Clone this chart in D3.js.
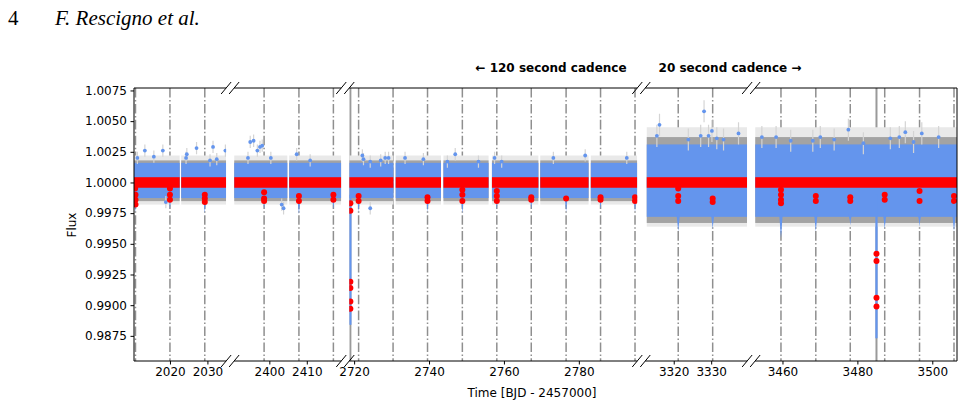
<!DOCTYPE html>
<html>
<head>
<meta charset="UTF-8">
<script src="https://d3js.org/d3.v7.min.js"></script>
<style>
  body { margin: 0; background: #fff; }
  svg text { font-family: "DejaVu Sans", sans-serif; }
</style>
</head>
<body>
<div id="chart"></div>
<script>
// x-limits of the five broken-axis panels (BJD - 2457000)
const panels = [[2010.4, 2035.0], [2390.6, 2419.2], [2718.7, 2795.6], [3312.4, 3339.6], [3452.7, 3506.6]];
const xTicks = [[2020, 2030], [2400, 2410], [2720, 2740, 2760, 2780], [3320, 3330], [3460, 3480, 3500]];
const yTicks = [0.9875, 0.9900, 0.9925, 0.9950, 0.9975, 1.0000, 1.0025, 1.0050, 1.0075];

// stretches of continuous data
const chunks120 = [[2010.4, 2022.6], [2023.0, 2035.0], [2390.6, 2404.8], [2405.3, 2419.2],
  [2718.7, 2730.5], [2731.1, 2743.2], [2743.85, 2755.9], [2756.8, 2769.2], [2769.7, 2782.6], [2783.2, 2795.6]];
const chunks20 = [[3312.8, 3339.6], [3452.7, 3506.6]];

// spread of the flux about 1 (above, below): points, dense error bars, faint error bars
const spread120 = { blue: [0.0016, 0.00127], dark: [0.0018, 0.00152], light: [0.0022, 0.0018] };
const spread20 = { blue: [0.0031, 0.0028], dark: [0.0037, 0.0033], light: [0.0045, 0.0036] };
const binSpread = 0.00043;

// planet transits (dash-dot) and their lowest unbinned flux
const transitTimes = [2010.8, 2020.0, 2029.3, 2398.6, 2407.9, 2417.1, 2721.2, 2730.4, 2739.6, 2748.9,
  2758.1, 2767.3, 2776.6, 2785.8, 2795.0, 3321.2, 3330.4, 3459.6, 3468.9, 3478.1, 3487.3, 3496.6, 3505.8];
const transitMin = [0.9976, 0.9978, 0.9975, 0.9978, 0.9974, 0.9978, 0.9976, null, 0.9976, 0.9975,
  0.9978, 0.9978, 0.9976, 0.9978, 0.9976, 0.9960, 0.9962, 0.9955, 0.9960, 0.9965, 0.9962, 0.9964, 0.9960];
// single deep transits (solid)
const singleTimes = [2719.0, 3485.1];
const singleMin = [0.9884, 0.9873];

// binned points inside transits
const binnedDips = [
  [2010.7, 0.9995], [2010.8, 0.9990], [2010.8, 0.9986], [2010.8, 0.9982],
  [2020.0, 0.9995], [2020.0, 0.9990], [2020.0, 0.9986],
  [2029.3, 0.9990], [2029.3, 0.9987], [2029.3, 0.9984],
  [2398.6, 0.9992], [2398.6, 0.9987], [2398.6, 0.9985],
  [2407.9, 0.9989], [2407.9, 0.9985], [2417.1, 0.9990], [2417.1, 0.9986],
  [2719.0, 0.9983], [2719.0, 0.9977], [2719.0, 0.9919], [2719.0, 0.9914], [2719.0, 0.9903], [2719.0, 0.9897],
  [2721.2, 0.9989], [2721.2, 0.9985], [2739.6, 0.9988], [2739.6, 0.9985],
  [2748.9, 0.9994], [2748.9, 0.9990], [2748.9, 0.9985],
  [2758.1, 0.9993], [2758.1, 0.9989], [2758.1, 0.9985],
  [2767.3, 0.9988], [2767.3, 0.9986], [2776.6, 0.9987],
  [2785.8, 0.9988], [2785.8, 0.9986], [2795.0, 0.9988], [2795.0, 0.9985],
  [3321.2, 0.9995], [3321.2, 0.9989], [3321.2, 0.9985], [3330.4, 0.9987], [3330.4, 0.9984],
  [3459.6, 0.9994], [3459.6, 0.9990], [3459.6, 0.9986], [3459.6, 0.9983],
  [3468.9, 0.9989], [3468.9, 0.9985], [3478.1, 0.9988], [3478.1, 0.9985],
  [3485.1, 0.9942], [3485.1, 0.9936], [3485.1, 0.9906], [3485.1, 0.9899],
  [3487.3, 0.9990], [3487.3, 0.9986], [3496.6, 0.9993], [3496.6, 0.9985],
  [3505.8, 0.9989], [3505.8, 0.9985]
];

// stray unbinned points outside the main band
const outliers120 = [
  [2011.3, 1.0020], [2013.3, 1.0026], [2015.7, 1.0021], [2018.1, 1.0026], [2018.9, 0.9984],
  [2024.3, 1.0020], [2024.5, 1.0023], [2027.1, 1.0028], [2030.7, 1.0018], [2031.5, 1.0029],
  [2032.5, 1.0019], [2034.8, 1.0026],
  [2394.3, 1.0020], [2394.9, 1.0033], [2395.8, 1.0034], [2396.8, 1.0026], [2397.5, 1.0029],
  [2398.1, 1.0030], [2400.4, 1.0020], [2403.3, 0.9982], [2403.8, 0.9979], [2407.3, 1.0023], [2410.9, 1.0018],
  [2722.2, 1.0022], [2722.5, 1.0019], [2724.3, 1.0017], [2724.3, 0.9979], [2727.1, 1.0018],
  [2728.3, 1.0020], [2729.2, 1.0020], [2733.6, 1.0020], [2738.5, 1.0019], [2744.9, 1.0017],
  [2747.0, 1.0023], [2753.2, 1.0017], [2757.5, 1.0020], [2759.4, 1.0017], [2773.2, 1.0020],
  [2781.7, 1.0022], [2792.8, 1.0020]
];
const outliers20 = [
  [3315.5, 1.0038], [3316.2, 1.0047], [3323.9, 1.0035], [3327.2, 1.0038], [3328.1, 1.0058],
  [3329.3, 1.0038], [3330.2, 1.0042], [3331.5, 1.0036], [3333.3, 1.0035], [3337.3, 1.0040],
  [3454.5, 1.0037], [3458.3, 1.0037], [3462.2, 1.0034], [3468.1, 1.0034], [3470.1, 1.0037],
  [3473.8, 1.0035], [3477.6, 1.0043], [3481.6, 1.0032], [3488.8, 1.0036], [3491.2, 1.0037],
  [3492.8, 1.0041], [3495.0, 1.0033], [3497.2, 1.0040], [3501.7, 1.0037]
];

const W = 964, H = 413;
const axLeft = 134, axRight = 957, gap = 8, axTop = 88, axBottom = 361;
const blue = "#6495ed", red = "#ff0000";

const svg = d3.select("#chart").append("svg").attr("width", W).attr("height", H);

// header line of the paper
svg.append("text").attr("x", 8).attr("y", 25)
  .style("font-family", "'Liberation Serif', serif").style("font-size", "21px").text("4");
svg.append("text").attr("x", 55).attr("y", 25)
  .style("font-family", "'Liberation Serif', serif").style("font-size", "21px").style("font-style", "italic")
  .text("F. Rescigno et al.");

const y = d3.scaleLinear().domain([0.98545, 1.0077]).range([axBottom, axTop]);

// panel widths proportional to their time span
const spans = panels.map(p => p[1] - p[0]);
const pxPerDay = (axRight - axLeft - gap * (panels.length - 1)) / d3.sum(spans);
let cursor = axLeft;
const xs = panels.map((p, i) => {
  const sc = d3.scaleLinear().domain(p).range([cursor, cursor + spans[i] * pxPerDay]);
  cursor += spans[i] * pxPerDay + gap;
  return sc;
});

const defs = svg.append("defs");

xs.forEach((x, i) => {
  const [x0, x1] = x.range();
  defs.append("clipPath").attr("id", "clip" + i)
    .append("rect").attr("x", x0).attr("y", axTop).attr("width", x1 - x0).attr("height", axBottom - axTop);
  const g = svg.append("g").attr("clip-path", `url(#clip${i})`);
  const inPanel = t => t >= panels[i][0] - 1 && t <= panels[i][1] + 1;

  // transit markers
  g.selectAll(".tr").data(transitTimes.filter(inPanel)).join("line")
    .attr("x1", d => x(d)).attr("x2", d => x(d)).attr("y1", axTop).attr("y2", axBottom)
    .attr("stroke", "#8f8f8f").attr("stroke-width", 1.5).attr("stroke-dasharray", "9.6,2.4,1.5,2.4");
  g.selectAll(".st").data(singleTimes.filter(inPanel)).join("line")
    .attr("x1", d => x(d)).attr("x2", d => x(d)).attr("y1", axTop).attr("y2", axBottom)
    .attr("stroke", "#9a9a9a").attr("stroke-width", 2);

  const is20 = i >= 3;
  const sp = is20 ? spread20 : spread120;
  const cs = (is20 ? chunks20 : chunks120).filter(c => c[1] > panels[i][0] && c[0] < panels[i][1]);
  [["light", "#e9e9e9"], ["dark", "#a3a3a3"], ["blue", blue]].forEach(([k, col]) => {
    g.selectAll(null).data(cs).join("rect")
      .attr("x", d => x(d[0])).attr("width", d => x(d[1]) - x(d[0]))
      .attr("y", y(1 + sp[k][0])).attr("height", y(1 - sp[k][1]) - y(1 + sp[k][0]))
      .attr("fill", col);
  });

  // unbinned points dropping in transit
  const dips = transitTimes.map((t, k) => [t, transitMin[k]]).filter(d => d[1] !== null && inPanel(d[0]));
  const base = 1 - sp.blue[1] + 0.0002;
  g.selectAll(null).data(dips).join("path")
    .attr("d", d => d3.line()([[x(d[0] - 0.45), y(base)], [x(d[0] - 0.12), y(d[1] + 0.0004)], [x(d[0]), y(d[1])],
      [x(d[0] + 0.12), y(d[1] + 0.0004)], [x(d[0] + 0.45), y(base)]]))
    .attr("fill", blue);
  const singles = singleTimes.map((t, k) => [t, singleMin[k]]).filter(d => inPanel(d[0]));
  g.selectAll(null).data(singles).join("rect")
    .attr("x", d => x(d[0] - 0.3)).attr("width", d => x(d[0] + 0.3) - x(d[0] - 0.3))
    .attr("y", y(0.999)).attr("height", d => y(d[1]) - y(0.999)).attr("fill", blue);

  // stray points with error bars
  const outs = (is20 ? outliers20 : outliers120).filter(d => inPanel(d[0]));
  const eb = is20 ? 0.0009 : 0.0005;
  g.selectAll(null).data(outs).join("line")
    .attr("x1", d => x(d[0])).attr("x2", d => x(d[0]))
    .attr("y1", d => y(d[1] + eb)).attr("y2", d => y(d[1] - eb))
    .attr("stroke", "#d4d4d4").attr("stroke-width", 1.2);
  g.selectAll(null).data(outs).join("circle")
    .attr("cx", d => x(d[0])).attr("cy", d => y(d[1])).attr("r", 1.9).attr("fill", blue);

  // binned light curve
  g.selectAll(null).data(cs).join("rect")
    .attr("x", d => x(d[0])).attr("width", d => x(d[1]) - x(d[0]))
    .attr("y", y(1 + binSpread)).attr("height", y(1 - binSpread) - y(1 + binSpread))
    .attr("fill", red);
  g.selectAll(null).data(binnedDips.filter(d => inPanel(d[0]))).join("circle")
    .attr("cx", d => x(d[0])).attr("cy", d => y(d[1])).attr("r", 3).attr("fill", red);

  // spines
  svg.append("line").attr("x1", x0).attr("x2", x1).attr("y1", axTop).attr("y2", axTop)
    .attr("stroke", "#000").attr("stroke-width", 1);
  svg.append("line").attr("x1", x0).attr("x2", x1).attr("y1", axBottom).attr("y2", axBottom)
    .attr("stroke", "#000").attr("stroke-width", 1);
  if (i === 0) svg.append("line").attr("x1", x0).attr("x2", x0).attr("y1", axTop).attr("y2", axBottom)
    .attr("stroke", "#000").attr("stroke-width", 1);
  if (i === panels.length - 1) svg.append("line").attr("x1", x1).attr("x2", x1).attr("y1", axTop).attr("y2", axBottom)
    .attr("stroke", "#000").attr("stroke-width", 1);

  // break marks
  const edges = [];
  if (i > 0) edges.push(x0);
  if (i < panels.length - 1) edges.push(x1);
  edges.forEach(e => [axTop, axBottom].forEach(yy => {
    svg.append("line").attr("x1", e - 5).attr("y1", yy + 6).attr("x2", e + 5).attr("y2", yy - 6)
      .attr("stroke", "#000").attr("stroke-width", 1);
  }));

  // x axis
  const ax = svg.append("g").attr("transform", `translate(0,${axBottom})`)
    .call(d3.axisBottom(x).tickValues(xTicks[i]).tickFormat(d3.format("d")).tickSize(3.5).tickPadding(3));
  ax.select(".domain").remove();
  ax.selectAll("text").style("font-size", "12px").attr("fill", "#000");
});

// y axis
const ay = svg.append("g").attr("transform", `translate(${axLeft},0)`)
  .call(d3.axisLeft(y).tickValues(yTicks).tickFormat(d3.format(".4f")).tickSize(3.5).tickPadding(3.5));
ay.select(".domain").remove();
ay.selectAll("text").style("font-size", "12px").attr("fill", "#000");

svg.append("text").attr("transform", `translate(76,225) rotate(-90)`).attr("text-anchor", "middle")
  .style("font-size", "12px").text("Flux");
svg.append("text").attr("x", 532).attr("y", 397).attr("text-anchor", "middle")
  .style("font-size", "12px").text("Time [BJD - 2457000]");

svg.append("text").attr("x", 551).attr("y", 72).attr("text-anchor", "middle")
  .style("font-size", "12px").style("font-weight", "bold").text("← 120 second cadence");
svg.append("text").attr("x", 730).attr("y", 72).attr("text-anchor", "middle")
  .style("font-size", "12px").style("font-weight", "bold").text("20 second cadence →");
</script>
</body>
</html>
